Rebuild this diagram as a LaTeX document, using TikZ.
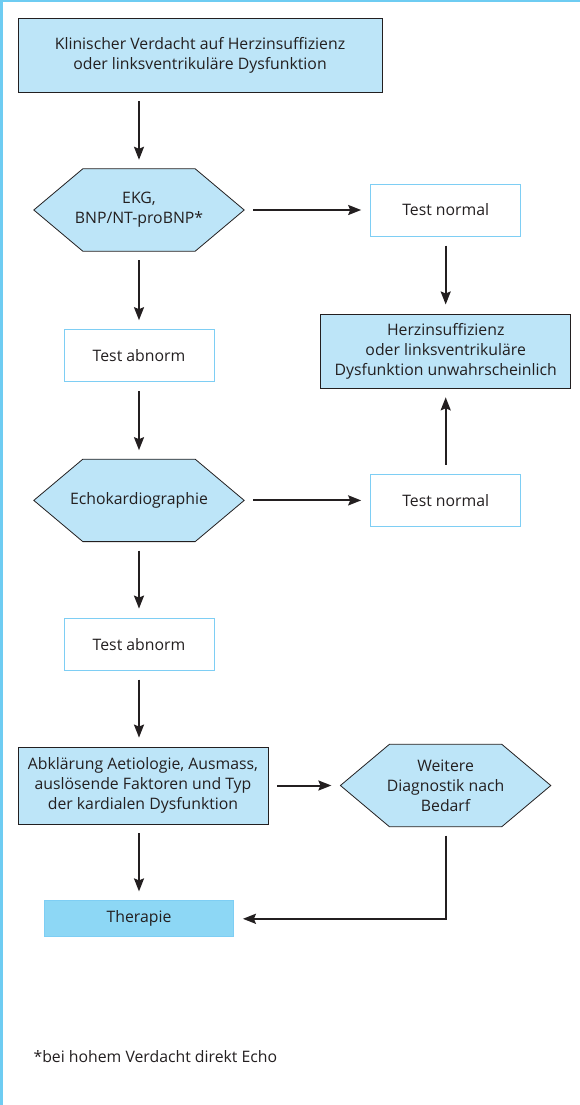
\documentclass[tikz,border=0pt]{standalone}
\usepackage{fontspec}
\setmainfont{Open Sans}
\usetikzlibrary{arrows.meta,positioning,backgrounds}
\definecolor{herzLightBlue}{RGB}{189, 229, 248}
\definecolor{herzBlue}{RGB}{141, 215, 245}
\definecolor{herzFrame}{RGB}{110, 204, 242}
\definecolor{herzLine}{RGB}{126, 206, 244}
\definecolor{herzText}{RGB}{35, 31, 32}

\begin{document}
\begin{tikzpicture}[
  x=1pt, y=-1pt,
  font=\fontsize{15.8}{20}\selectfont,
  text=herzText,
  box/.style={
    draw=herzText,
    fill=herzLightBlue,
    line width=0.8pt,
    inner sep=0pt,
    align=center
  },
  testbox/.style={
    draw=herzLine,
    fill=white,
    line width=1pt,
    minimum width=150pt,
    minimum height=52pt,
    inner sep=0pt
  },
  hexbox/.style={
    inner sep=0pt,
    align=center,
    minimum width=210pt,
    minimum height=82pt
  },
  hexline/.style={draw=herzText,fill=herzLightBlue,line width=0.8pt},
  arrow/.style={-{Stealth[length=13pt,width=10pt,inset=2pt]},line width=2pt,herzText,
    shorten <=9pt, shorten >=9pt},
  frame/.style={herzFrame,line width=5pt}
]
  \useasboundingbox (0,0) rectangle (580,1105);
  \draw[frame] (0,1105) -- (0,0) -- (580,0);

  \node[box,minimum width=364pt,minimum height=74pt] (verdacht) at (200,55)
    {Klinischer Verdacht auf Herzinsuffizienz\\oder linksventrikuläre Dysfunktion};
  \node[hexbox] (ekg) at (139,210) {EKG,\\BNP/NT-proBNP*};
  \node[testbox, below=78pt of ekg] (abnorm1) {Test abnorm};
  \node[hexbox, below=77pt of abnorm1] (echo) {Echokardiographie};
  \node[testbox, below=76pt of echo] (abnorm2) {Test abnorm};
  \node[box, below=76pt of abnorm2, xshift=4pt,
    minimum width=250pt, minimum height=77pt] (abklaerung)
    {Abklärung Aetiologie, Ausmass,\\auslösende Faktoren und Typ\\der kardialen Dysfunktion};
  \node[box, draw=herzLine, fill=herzBlue, below=76pt of abklaerung, xshift=-4pt,
    minimum width=189pt, minimum height=36pt] (therapie) {Therapie};

  \node[testbox, right=126pt of ekg] (normal1) {Test normal};
  \node[box, below=77pt of normal1, minimum width=250pt, minimum height=74pt] (unwahr)
    {Herzinsuffizienz\\oder linksventrikuläre\\Dysfunktion unwahrscheinlich};
  \node[testbox, right=126pt of echo] (normal2) {Test normal};
  \node[hexbox, right=72pt of abklaerung] (weitere) {Weitere\\Diagnostik nach\\Bedarf};

  \node[anchor=west] (fussnote) at (30,1057) {*bei hohem Verdacht direkt Echo};

  % Sechsecke hinter den Texten
  \begin{scope}[on background layer]
    \foreach \hex in {ekg,echo,weitere}
      \draw[hexline] (\hex.west) -- ([xshift=49pt]\hex.north west)
        -- ([xshift=-49pt]\hex.north east) -- (\hex.east)
        -- ([xshift=-49pt]\hex.south east) -- ([xshift=49pt]\hex.south west) -- cycle;
  \end{scope}

  \draw[arrow] (verdacht.south -| ekg) -- (ekg);
  \draw[arrow] (ekg) -- (abnorm1);
  \draw[arrow] (abnorm1) -- (echo);
  \draw[arrow] (echo) -- (abnorm2);
  \draw[arrow] (abnorm2) -- (abklaerung.north -| abnorm2);
  \draw[arrow] (abklaerung.south -| therapie) -- (therapie);
  \draw[arrow] (ekg) -- (normal1);
  \draw[arrow] (normal1) -- (unwahr);
  \draw[arrow] (echo) -- (normal2);
  \draw[arrow] (normal2) -- (unwahr);
  \draw[arrow] (abklaerung) -- (weitere);
  \draw[arrow] (weitere) |- (therapie);
\end{tikzpicture}
\end{document}
